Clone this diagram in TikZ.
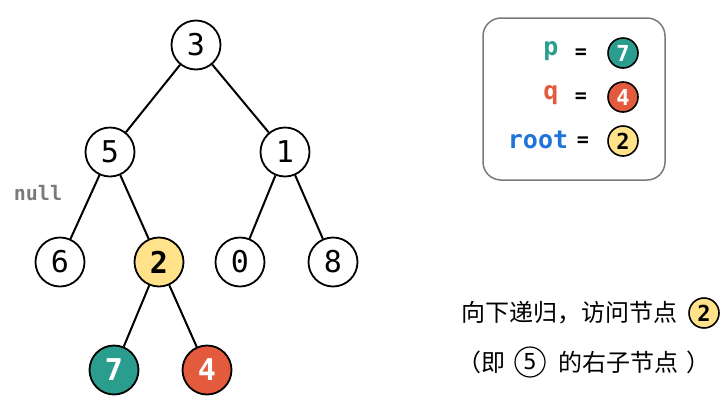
\documentclass[tikz,border=0pt]{standalone}
\usepackage{fontspec}
\setmainfont{DejaVu Sans}
\setmonofont{DejaVu Sans Mono}
\newfontfamily\cjk{Noto Sans CJK SC}
\definecolor{teal}{HTML}{2A9D8F}
\definecolor{redo}{HTML}{E35B3C}
\definecolor{yel}{HTML}{FFE28A}
\definecolor{blu}{HTML}{1E74D8}
\definecolor{gry}{HTML}{7A7A7A}
\begin{document}
\begin{tikzpicture}[x=1pt,y=-1pt,
  tn/.style={circle,draw=black,line width=1.8pt,minimum size=49pt,inner sep=0pt,font=\ttfamily\fontsize{30}{30}\selectfont,fill=white},
  tb/.style={tn,font=\ttfamily\bfseries\fontsize{30}{30}\selectfont},
  sn/.style={circle,draw=black,line width=1.6pt,minimum size=30pt,inner sep=0pt,font=\ttfamily\bfseries\fontsize{22}{22}\selectfont},
  ed/.style={line width=2pt},
  code/.style={font=\ttfamily\bfseries\fontsize{25}{25}\selectfont},
  eq/.style={font=\ttfamily\bfseries\fontsize{20}{20}\selectfont},
  cj/.style={font=\cjk\fontsize{24}{24}\selectfont,inner sep=0pt}]
\useasboundingbox (0,0) rectangle (725,405);
% tree
\node[tn] (n3) at (196,45) {3};
\node[tn] (n5) at (110,152) {5};
\node[tn] (n1) at (285,152) {1};
\node[tn] (n6) at (60,262) {6};
\node[tb,fill=yel] (n2) at (159,262) {2};
\node[tn] (n0) at (240,262) {0};
\node[tn] (n8) at (333,262) {8};
\node[tb,fill=teal,text=white] (n7) at (114,370) {7};
\node[tb,fill=redo,text=white] (n4) at (207,370) {4};
\draw[ed] (n3) -- (n5);
\draw[ed] (n3) -- (n1);
\draw[ed] (n5) -- (n6);
\draw[ed] (n5) -- (n2);
\draw[ed] (n1) -- (n0);
\draw[ed] (n1) -- (n8);
\draw[ed] (n2) -- (n7);
\draw[ed] (n2) -- (n4);
\node[text=gry,font=\ttfamily\bfseries\fontsize{20}{20}\selectfont] (nul) at (38,193) {null};
% legend box
\node[draw=gry,line width=1.5pt,rounded corners=18pt,minimum width=182pt,minimum height=162pt] (box) at (574,99) {};
\node[code,text=teal] (lp) at (551,51) {p};
\node[eq] (e1) at (581,54) {=};
\node[sn,fill=teal,text=white] (c7) at (623,53) {7};
\node[code,text=redo] (lq) at (551,95) {q};
\node[eq] (e2) at (581,98) {=};
\node[sn,fill=redo,text=white] (c4) at (623,97) {4};
\node[code,text=blu] (lr) at (538,140) {root};
\node[eq] (e3) at (583,142) {=};
\node[sn,fill=yel] (c2) at (623,141) {2};
% text
\node[cj,anchor=west] (t1) at (461,313) {向下递归，访问节点};
\node[sn,fill=yel] (t2) at (704,313) {2};
\node[cj,anchor=west] (t3) at (457,362) {（即};
\node[sn,font=\ttfamily\fontsize{22}{22}\selectfont,line width=1.2pt] (t5) at (530,362) {5};
\node[cj,anchor=west] (t4) at (558,362) {的右子节点\hspace{8pt}）};
\end{tikzpicture}
\end{document}
